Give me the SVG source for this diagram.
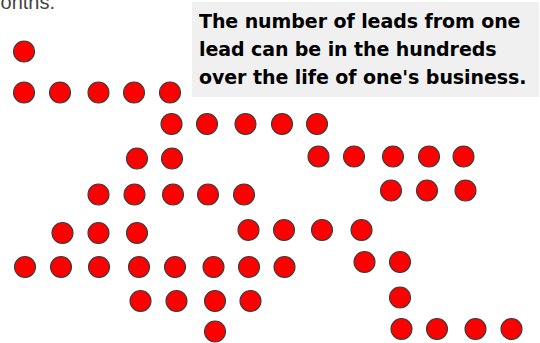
<svg xmlns="http://www.w3.org/2000/svg" width="540" height="343" viewBox="0 0 540 343">
<style>
.d{fill:#ff0000;stroke:#3a3a3a;stroke-width:1.1}
.cap{font-family:"DejaVu Sans",Verdana,sans-serif;font-weight:bold;font-size:19px;fill:#000}
.top{font-family:"Liberation Sans",Arial,sans-serif;font-size:20px;fill:#444}
</style>
<rect width="540" height="343" fill="#fff"/>
<text class="top" x="55" y="8.5" text-anchor="end">months.</text>
<g id="caption">
<rect x="192" y="2" width="347" height="95" fill="#f0f0f0"/>
<text class="cap" x="199" y="27.7" textLength="321.5" lengthAdjust="spacing">The number of leads from one</text>
<text class="cap" x="199" y="55.7" textLength="297.5" lengthAdjust="spacing">lead can be in the hundreds</text>
<text class="cap" x="199" y="84" textLength="327.5" lengthAdjust="spacing">over the life of one's business.</text>
</g>
<g id="leads">
<g id="rowA"><circle class="d" cx="24" cy="51.5" r="10.5"/></g>
<g id="rowB">
<circle class="d" cx="24" cy="92.5" r="10.5"/><circle class="d" cx="60" cy="92.5" r="10.5"/><circle class="d" cx="98.5" cy="92.5" r="10.5"/><circle class="d" cx="134" cy="92.5" r="10.5"/><circle class="d" cx="170" cy="92.5" r="10.5"/>
</g>
<g id="rowC">
<circle class="d" cx="171.5" cy="124" r="10.5"/><circle class="d" cx="207" cy="124" r="10.5"/><circle class="d" cx="245.5" cy="124" r="10.5"/><circle class="d" cx="282" cy="124" r="10.5"/><circle class="d" cx="317" cy="124" r="10.5"/>
</g>
<g id="rowD">
<circle class="d" cx="137" cy="158.5" r="10.5"/><circle class="d" cx="172" cy="158.5" r="10.5"/>
<circle class="d" cx="318.5" cy="156.5" r="10.5"/><circle class="d" cx="354" cy="156.5" r="10.5"/><circle class="d" cx="393" cy="156.5" r="10.5"/><circle class="d" cx="429" cy="156.5" r="10.5"/><circle class="d" cx="463.5" cy="156.5" r="10.5"/>
</g>
<g id="rowE">
<circle class="d" cx="98.5" cy="194.5" r="10.5"/><circle class="d" cx="134.5" cy="194.5" r="10.5"/><circle class="d" cx="173" cy="194.5" r="10.5"/><circle class="d" cx="208" cy="194.5" r="10.5"/><circle class="d" cx="244" cy="194.5" r="10.5"/>
<circle class="d" cx="391" cy="190.5" r="10.5"/><circle class="d" cx="427" cy="190.5" r="10.5"/><circle class="d" cx="465.5" cy="190.5" r="10.5"/>
</g>
<g id="rowF">
<circle class="d" cx="62.5" cy="233" r="10.5"/><circle class="d" cx="98.5" cy="233" r="10.5"/><circle class="d" cx="137" cy="233" r="10.5"/>
<circle class="d" cx="248.5" cy="230" r="10.5"/><circle class="d" cx="284" cy="230" r="10.5"/><circle class="d" cx="322" cy="230" r="10.5"/><circle class="d" cx="361.5" cy="230" r="10.5"/>
</g>
<g id="rowG">
<circle class="d" cx="25" cy="267" r="10.5"/><circle class="d" cx="61" cy="267" r="10.5"/><circle class="d" cx="99" cy="267" r="10.5"/><circle class="d" cx="139" cy="267" r="10.5"/><circle class="d" cx="175" cy="267" r="10.5"/><circle class="d" cx="213.5" cy="267" r="10.5"/><circle class="d" cx="249" cy="267" r="10.5"/><circle class="d" cx="284.5" cy="267" r="10.5"/>
<circle class="d" cx="364.5" cy="262" r="10.5"/><circle class="d" cx="400" cy="262" r="10.5"/>
</g>
<g id="rowH">
<circle class="d" cx="140.5" cy="301" r="10.5"/><circle class="d" cx="176.5" cy="301" r="10.5"/><circle class="d" cx="215" cy="301" r="10.5"/><circle class="d" cx="250.5" cy="301" r="10.5"/>
<circle class="d" cx="400" cy="297.5" r="10.5"/>
</g>
<g id="rowI">
<circle class="d" cx="215" cy="331.5" r="10.5"/>
<circle class="d" cx="401.5" cy="329" r="10.5"/><circle class="d" cx="437" cy="329" r="10.5"/><circle class="d" cx="475.5" cy="329" r="10.5"/><circle class="d" cx="511.5" cy="329" r="10.5"/>
</g>
</g>
<g id="connectors"/>
</svg>
